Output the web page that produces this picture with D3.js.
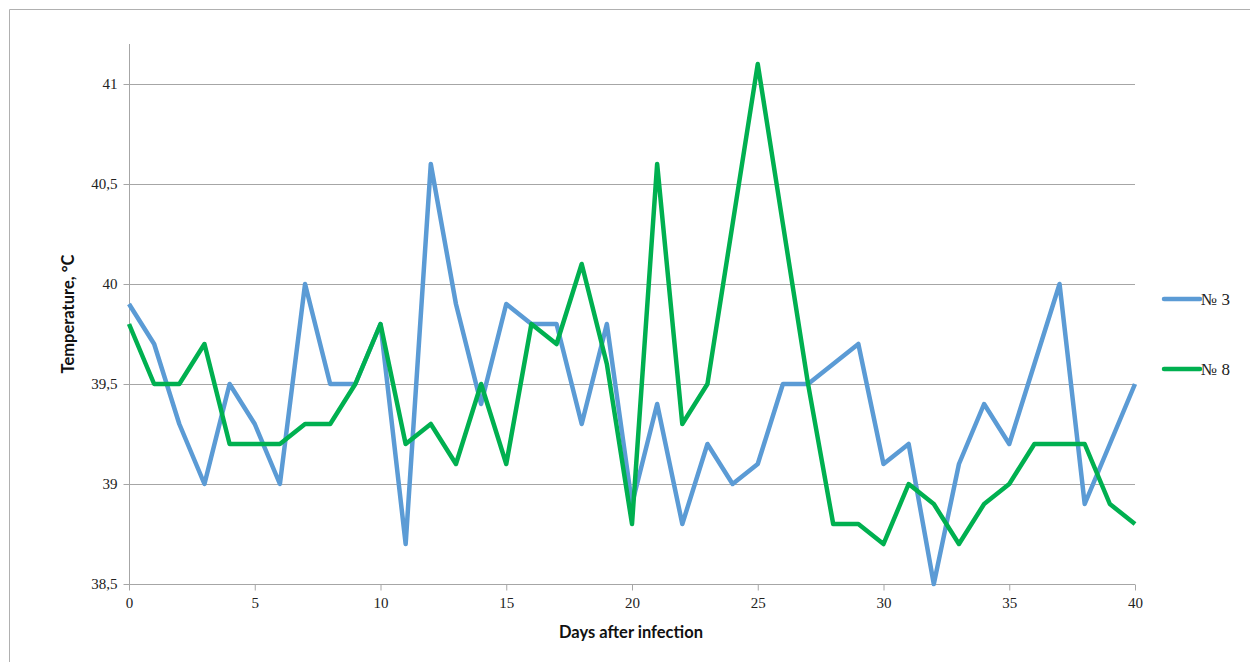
<!DOCTYPE html>
<html><head><meta charset="utf-8">
<script src="https://cdn.jsdelivr.net/npm/d3@7"></script>
<style>body{margin:0;background:#fff}svg{display:block}
.serif{font-family:"Liberation Serif","Times New Roman","DejaVu Serif",serif}</style>
</head><body>
<svg id="c" width="1250" height="662"></svg>
<script>
const days = d3.range(0, 41);
const series3 = [39.9,39.7,39.3,39.0,39.5,39.3,39.0,40.0,39.5,39.5,39.8,38.7,40.6,39.9,39.4,39.9,39.8,39.8,39.3,39.8,38.9,39.4,38.8,39.2,39.0,39.1,39.5,39.5,39.6,39.7,39.1,39.2,38.5,39.1,39.4,39.2,39.6,40.0,38.9,39.2,39.5];
const series8 = [39.8,39.5,39.5,39.7,39.2,39.2,39.2,39.3,39.3,39.5,39.8,39.2,39.3,39.1,39.5,39.1,39.8,39.7,40.1,39.6,38.8,40.6,39.3,39.5,40.3,41.1,40.3,39.5,38.8,38.8,38.7,39.0,38.9,38.7,38.9,39.0,39.2,39.2,39.2,38.9,38.8];
const seriesNames = ["№ 3", "№ 8"];
const seriesColors = ["#5B9BD5", "#00B050"];
const yTicks = [38.5, 39, 39.5, 40, 40.5, 41];
const xTicks = [0, 5, 10, 15, 20, 25, 30, 35, 40];

const svg = d3.select("#c");
const L = 129, R = 1135, T = 44, B = 584;
const x = d3.scaleLinear().domain([0, 40]).range([L, R]);
const y = d3.scaleLinear().domain([38.5, 41.2]).range([B, B - 2.7 * 200]);

// outer frame
svg.append("path").attr("d", "M9.5,662 V9.5 H1250").attr("fill", "none").attr("stroke", "#b0b0b0").attr("stroke-width", 1);

// gridlines
svg.append("g").selectAll("line").data(yTicks.slice(1)).join("line")
  .attr("x1", L).attr("x2", R)
  .attr("y1", d => Math.round(y(d)) + 0.5).attr("y2", d => Math.round(y(d)) + 0.5)
  .attr("stroke", "#a6a6a6").attr("stroke-width", 1);

// y axis
const yAxis = svg.append("g").attr("transform", `translate(${L + 0.5},0)`)
  .call(d3.axisLeft(y).tickValues(yTicks).tickSize(6).tickPadding(6)
    .tickFormat(d => String(d).replace(".", ",")));
yAxis.attr("font-family", null);
yAxis.select(".domain").attr("stroke", "#a6a6a6").attr("d", `M-0,${T}V${B}`);
yAxis.selectAll(".tick line").attr("stroke", "#a6a6a6");
yAxis.selectAll("text").attr("class", "serif").style("font-size", "15px").attr("fill", "#222");

// x axis
const xAxis = svg.append("g").attr("transform", `translate(0,${B + 0.5})`)
  .call(d3.axisBottom(x).tickValues(xTicks).tickSize(6).tickPadding(7));
xAxis.attr("font-family", null);
xAxis.select(".domain").attr("stroke", "#a6a6a6").attr("d", `M${L},0H${R}`);
xAxis.selectAll(".tick line").attr("stroke", "#a6a6a6");
xAxis.selectAll("text").attr("class", "serif").style("font-size", "15px").attr("fill", "#222");

// axis titles
svg.append("text").attr("x", (L + R) / 2 - 1).attr("y", 638).attr("text-anchor", "middle")
  .style("font-family", "Lato, 'Open Sans', sans-serif").attr("font-weight", "bold").attr("font-size", 16.5)
  .attr("fill", "#111").text("Days after infection");
svg.append("text").attr("transform", "translate(74,314) rotate(-90)").attr("text-anchor", "middle")
  .style("font-family", "Lato, 'Open Sans', sans-serif").attr("font-weight", "bold").attr("font-size", 16.5)
  .attr("fill", "#111").text("Temperature, °C");

// lines
const line = d3.line().x((d, i) => x(days[i])).y(d => y(d));
[series3, series8].forEach((s, k) => {
  svg.append("path").datum(s).attr("d", line).attr("fill", "none")
    .attr("stroke", seriesColors[k]).attr("stroke-width", 4.5)
    .attr("stroke-linejoin", "round");
});

// legend
const legY = [299, 369];
seriesNames.forEach((n, k) => {
  svg.append("line").attr("x1", 1164).attr("x2", 1200).attr("y1", legY[k]).attr("y2", legY[k])
    .attr("stroke", seriesColors[k]).attr("stroke-width", 4.5).attr("stroke-linecap", "round");
  svg.append("text").attr("x", 1201).attr("y", legY[k] + 6).attr("class", "serif")
    .style("font-size", "17px").attr("fill", "#222").text(n);
});
</script>
</body></html>
